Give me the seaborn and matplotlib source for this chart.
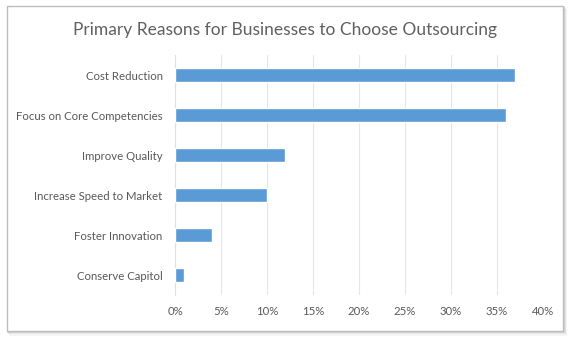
import matplotlib
matplotlib.use("Agg")
import matplotlib.pyplot as plt
from matplotlib.patches import Rectangle
from matplotlib.ticker import PercentFormatter, MultipleLocator
import seaborn as sns
import pandas as pd

reasons = [
    "Cost Reduction",
    "Focus on Core Competencies",
    "Improve Quality",
    "Increase Speed to Market",
    "Foster Innovation",
    "Conserve Capitol",
]
shares = [37, 36, 12, 10, 4, 1]

df = pd.DataFrame({"reason": reasons, "share": shares})

sns.set_theme(style="white")
plt.rcParams["font.family"] = ["Lato", "DejaVu Sans"]

fig = plt.figure(figsize=(5.7, 3.38), dpi=100)
fig.patch.set_facecolor("white")

# chart frame with a soft drop shadow
for i, a in enumerate([0.10, 0.07, 0.04]):
    fig.patches.append(Rectangle((0.012 + 0.002 * (i + 1), 0.022 - 0.004 * (i + 1)), 0.975, 0.96,
                                 transform=fig.transFigure, facecolor="none",
                                 edgecolor=(0, 0, 0, a), lw=1.5, zorder=0))
fig.patches.append(Rectangle((0.012, 0.022), 0.975, 0.96, transform=fig.transFigure,
                             facecolor="white", edgecolor="#bdbdbd", lw=1.0, zorder=1))

ax = fig.add_axes([175 / 570, 1 - 295 / 338, (543 - 175) / 570, (295 - 55) / 338])
ax.set_zorder(5)
ax.set_facecolor("none")

sns.barplot(data=df, y="reason", x="share", orient="h", color="#5b9bd5",
            width=0.36, saturation=1, ax=ax, zorder=3)

ax.set_xlim(0, 40)
ax.xaxis.set_major_locator(MultipleLocator(5))
ax.xaxis.set_major_formatter(PercentFormatter(decimals=0))
ax.grid(axis="x", color="#e6e6e6", lw=0.8, zorder=0)
ax.set_axisbelow(True)
for s in ["top", "right", "bottom"]:
    ax.spines[s].set_visible(False)
ax.spines["left"].set_color("#e0e0e0")
ax.spines["left"].set_linewidth(0.8)
ax.set_xlabel("")
ax.set_ylabel("")
ax.tick_params(axis="both", length=0, labelsize=8.2, labelcolor="#595959")
ax.tick_params(axis="y", pad=9)
ax.tick_params(axis="x", pad=8)

fig.text(0.5, 1 - 30 / 338, "Primary Reasons for Businesses to Choose Outsourcing",
         ha="center", va="center", fontsize=12.5, color="#606060", zorder=6)

fig.savefig("out.png", dpi=100)
